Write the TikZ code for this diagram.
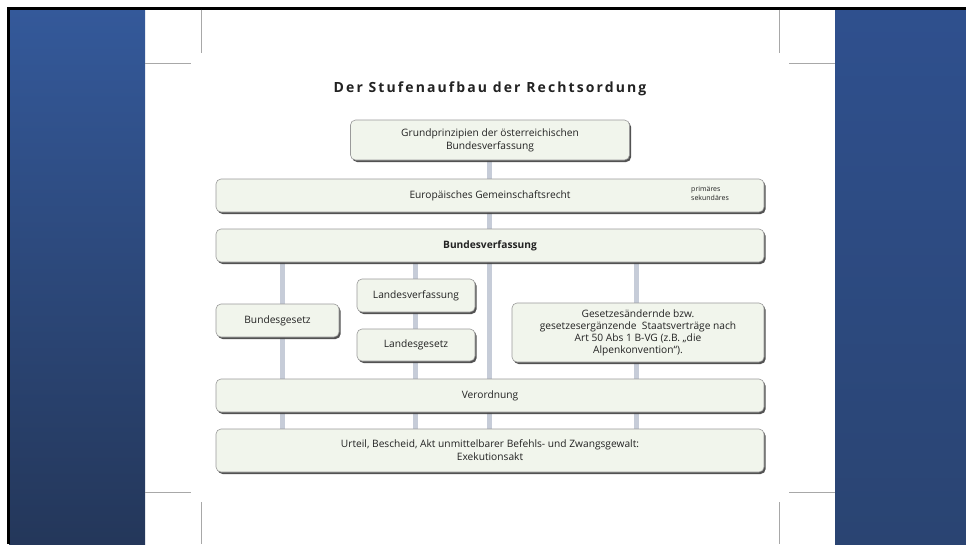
\documentclass[tikz,border=0pt]{standalone}
\usepackage{fontspec}
\setmainfont{Open Sans}
\usetikzlibrary{shadows}
\pgfdeclarelayer{back}\pgfdeclarelayer{bg}
\pgfsetlayers{back,bg,main}
\definecolor{boxfill}{HTML}{F1F5EC}
\definecolor{boxline}{HTML}{9A9A9A}
\definecolor{connc}{HTML}{C6CCD8}
\definecolor{txt}{HTML}{222222}
\definecolor{bluetopL}{HTML}{34599A}
\definecolor{bluebotL}{HTML}{24375A}
\definecolor{bluetopR}{HTML}{2F508E}
\definecolor{bluemidR}{HTML}{33579A}
\definecolor{bluebotR}{HTML}{2A4472}
\definecolor{cropc}{HTML}{A8A8A8}
\tikzset{
 lawbox/.style={draw=boxline, line width=0.6pt, fill=boxfill, rounded corners=5pt, inner sep=0pt, align=center, text=txt,
   font=\fontsize{10.2}{13}\selectfont,
   drop shadow={shadow xshift=1.6pt, shadow yshift=-2pt, fill=black!75, opacity=0.9}},
 conn/.style={connc, line width=5pt},
 cropmark/.style={cropc, line width=0.9pt},
}
\begin{document}
\begin{tikzpicture}[x=1pt,y=-1pt]
\useasboundingbox (0,0) rectangle (966,544);
\begin{pgfonlayer}{back}
\fill[white] (0,0) rectangle (966,544);
\shade[top color=bluetopL, bottom color=bluebotL] (9,9) rectangle (145,544);
\shade[top color=bluetopR, middle color=bluemidR, bottom color=bluebotR] (835,9) rectangle (966,544);
\fill[black] (7,7) rectangle (966,9.5);
\fill[black] (7,7) rectangle (9.5,544);
% crop marks
\draw[cropmark] (201,9.5) -- (201,53);
\draw[cropmark] (145,63) -- (191,63);
\draw[cropmark] (779,9.5) -- (779,53);
\draw[cropmark] (789,63) -- (835,63);
\draw[cropmark] (145,492) -- (191,492);
\draw[cropmark] (201,502) -- (201,544);
\draw[cropmark] (789,492) -- (835,492);
\draw[cropmark] (779,502) -- (779,544);
\end{pgfonlayer}

\node[text=txt, font=\fontsize{14}{16}\selectfont\bfseries\addfontfeature{LetterSpace=15}] (title) at (490,89) {Der Stufenaufbau der Rechtsordung};

\node[lawbox, minimum width=279pt, minimum height=40pt] (g) at (490,140) {Grundprinzipien der österreichischen\\Bundesverfassung};
\node[lawbox, minimum width=548pt, minimum height=33pt] (eu) at (490,195.5) {Europäisches Gemeinschaftsrecht};
\node[anchor=west, align=left, text=txt, font=\fontsize{7}{9.5}\selectfont, inner sep=0pt] (prim) at (691,193.5) {primäres\\sekundäres};
\node[lawbox, minimum width=548pt, minimum height=33pt, font=\fontsize{10.2}{13}\selectfont\bfseries] (bv) at (490,245.5) {Bundesverfassung};
\node[lawbox, minimum width=123pt, minimum height=33pt] (bg) at (277.5,320.5) {Bundesgesetz};
\node[lawbox, minimum width=118pt, minimum height=33pt] (lv) at (416,295.5) {Landesverfassung};
\node[lawbox, minimum width=118pt, minimum height=32pt] (lg) at (416,345) {Landesgesetz};
\node[lawbox, minimum width=252pt, minimum height=59pt, font=\fontsize{10.2}{12}\selectfont] (ga) at (638,332.5) {Gesetzesändernde bzw.\\gesetzesergänzende\ \ Staatsverträge nach\\Art 50 Abs 1 B-VG (z.B. „die\\Alpenkonvention“).};
\node[lawbox, minimum width=548pt, minimum height=33pt] (vo) at (490,395.5) {Verordnung};
\node[lawbox, minimum width=548pt, minimum height=43pt] (ur) at (490,450.5) {Urteil, Bescheid, Akt unmittelbarer Befehls- und Zwangsgewalt:\\Exekutionsakt};

\coordinate (c1) at (282,0);
\coordinate (c2) at (415,0);
\coordinate (c3) at (489,0);
\coordinate (c4) at (636,0);

\begin{pgfonlayer}{bg}
\draw[conn] (c3 |- g.south) -- (c3 |- eu.north);
\draw[conn] (c3 |- eu.south) -- (c3 |- bv.north);
\draw[conn] (c3 |- bv.south) -- (c3 |- vo.north);
\draw[conn] (c3 |- vo.south) -- (c3 |- ur.north);
\draw[conn] (c1 |- bv.south) -- (c1 |- bg.north);
\draw[conn] (c1 |- bg.south) -- (c1 |- vo.north);
\draw[conn] (c1 |- vo.south) -- (c1 |- ur.north);
\draw[conn] (c2 |- bv.south) -- (c2 |- lv.north);
\draw[conn] (c2 |- lv.south) -- (c2 |- lg.north);
\draw[conn] (c2 |- lg.south) -- (c2 |- vo.north);
\draw[conn] (c2 |- vo.south) -- (c2 |- ur.north);
\draw[conn] (c4 |- bv.south) -- (c4 |- ga.north);
\draw[conn] (c4 |- ga.south) -- (c4 |- vo.north);
\draw[conn] (c4 |- vo.south) -- (c4 |- ur.north);
\end{pgfonlayer}
\end{tikzpicture}
\end{document}
